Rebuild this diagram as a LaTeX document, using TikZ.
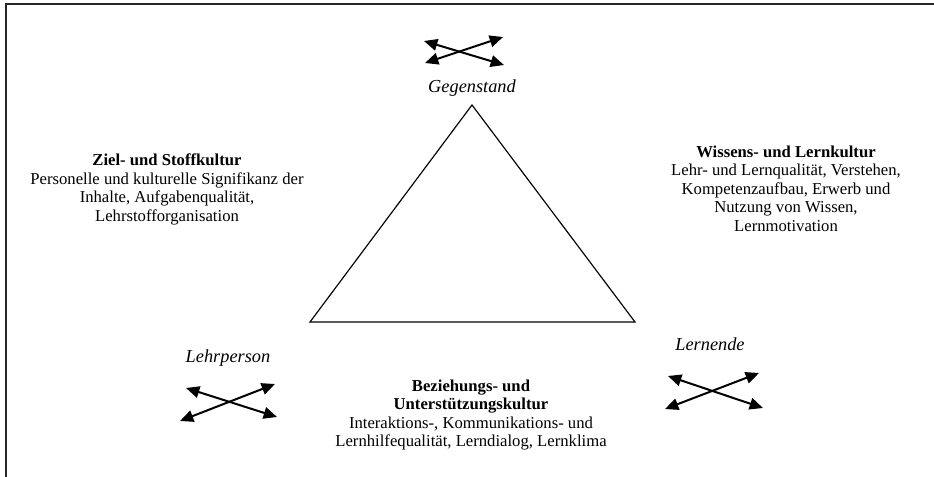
\documentclass[tikz,border=0pt]{standalone}
\usepackage{fontspec}
\setmainfont{Liberation Serif}
\usepackage{tikz}
\usetikzlibrary{positioning,arrows.meta}

\begin{document}
\begin{tikzpicture}[x=0.6pt,y=-0.6pt]
	\tikzset{
	    myframe/.style={line width=0.8pt, black!85},
	    mytri/.style={line width=0.7pt, line join=miter},
	    myarrow/.style={{Triangle[length=8pt,width=7pt]}-{Triangle[length=8pt,width=7pt]}, line width=1.2pt},
	    mylabel/.style={inner sep=0pt, font=\fontsize{11}{13}\selectfont\itshape},
	    mytext/.style={inner sep=0pt, anchor=north, align=center, font=\fontsize{10}{11.1}\selectfont}
	}
	\useasboundingbox (0,0) rectangle (934,477);
	\draw[myframe] (934,4) -- (6,4) -- (6,477);

	% Dreieck
	\coordinate (top) at (472,105);
	\coordinate (lc) at (310,322);
	\coordinate (rc) at (635,322);
	\draw[mytri] (top) -- (rc) -- (lc) -- cycle;

	\node[mylabel, anchor=base] (gegenstand) at (472,92.5) {Gegenstand};
	\node[mylabel, anchor=base] (lehrperson) at (228,362) {Lehrperson};
	\node[mylabel, anchor=base] (lernende) at (710,351) {Lernende};

	% Pfeilkreuze
	\coordinate (g1) at (424,41);  \coordinate (g2) at (504,65);
	\coordinate (g3) at (425,63);  \coordinate (g4) at (503,37);
	\coordinate (p1) at (186,388); \coordinate (p2) at (277,417);
	\coordinate (p3) at (180,421); \coordinate (p4) at (275,384);
	\coordinate (l1) at (668,376); \coordinate (l2) at (763,408);
	\coordinate (l3) at (665,409); \coordinate (l4) at (759,373);
	\draw[myarrow] (g1) -- (g2);
	\draw[myarrow] (g3) -- (g4);
	\draw[myarrow] (p1) -- (p2);
	\draw[myarrow] (p3) -- (p4);
	\draw[myarrow] (l1) -- (l2);
	\draw[myarrow] (l3) -- (l4);

	\node[mytext] (zielkultur) at (167,153.5) {\textbf{Ziel- und Stoffkultur}\\Personelle und kulturelle Signifikanz der\\Inhalte, Aufgabenqualität,\\Lehrstofforganisation};
	\node[mytext] (wissenkultur) at (786,145.5) {\textbf{Wissens- und Lernkultur}\\Lehr- und Lernqualität, Verstehen,\\Kompetenzaufbau, Erwerb und\\Nutzung von Wissen,\\Lernmotivation};
	\node[mytext] (beziehkultur) at (471,379.5) {\textbf{Beziehungs- und}\\\textbf{Unterstützungskultur}\\Interaktions-, Kommunikations- und\\Lernhilfequalität, Lerndialog, Lernklima};
\end{tikzpicture}
\end{document}
